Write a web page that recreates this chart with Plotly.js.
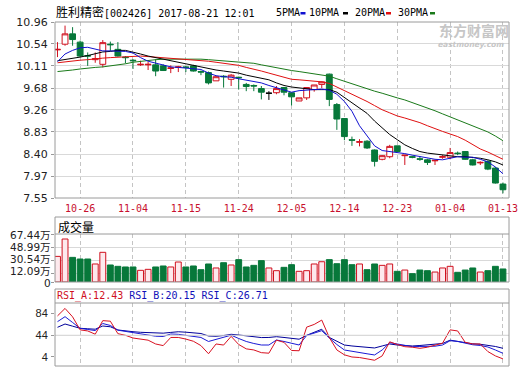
<!DOCTYPE html>
<html><head><meta charset="utf-8">
<script src="https://cdn.plot.ly/plotly-3.0.1.min.js"></script>
<style>html,body{margin:0;padding:0;background:#fff;overflow:hidden}#c{width:519px;height:375px}</style>
</head><body><div id="c"></div>
<script>
const dates = ['10-21','10-24','10-25','10-26','10-27','10-28','10-31','11-01','11-02','11-03','11-04','11-07','11-08','11-09','11-10','11-11','11-14','11-15','11-16','11-17','11-18','11-21','11-22','11-23','11-24','11-25','11-28','11-29','11-30','12-01','12-02','12-05','12-06','12-07','12-08','12-09','12-12','12-13','12-14','12-15','12-16','12-19','12-20','12-21','12-22','12-23','12-26','12-27','12-28','12-29','12-30','01-03','01-04','01-05','01-06','01-09','01-10','01-11','01-12','01-13'];
const openP  = [10.42,10.53,10.73,10.57,10.31,10.23,10.14,10.53,10.43,10.28,10.22,10.13,10.13,10.13,10.11,10.06,10.08,10.09,10.11,10.00,9.98,9.82,9.91,9.85,9.89,9.75,9.73,9.67,9.58,9.59,9.69,9.59,9.43,9.49,9.65,9.75,9.95,9.36,9.09,8.68,8.63,8.65,8.48,8.30,8.35,8.56,8.37,8.35,8.31,8.29,8.27,8.34,8.34,8.42,8.45,8.29,8.23,8.26,8.13,7.82];
const highP  = [10.57,10.89,10.86,10.60,10.37,10.37,10.61,10.58,10.57,10.30,10.24,10.21,10.19,10.24,10.14,10.12,10.11,10.11,10.13,10.02,10.00,9.91,9.93,9.95,9.90,9.78,9.75,9.72,9.62,9.72,9.70,9.59,9.49,9.69,9.74,9.81,9.96,9.39,9.09,8.74,8.69,8.67,8.49,8.38,8.58,8.56,8.38,8.37,8.36,8.31,8.28,8.38,8.52,8.45,8.46,8.31,8.26,8.28,8.15,7.85];
const lowP   = [10.28,10.50,10.50,10.28,10.11,10.17,10.08,10.40,10.29,10.16,10.05,10.11,10.03,9.91,10.01,9.97,9.99,9.99,10.00,9.93,9.75,9.82,9.69,9.72,9.65,9.62,9.62,9.46,9.45,9.56,9.54,9.34,9.43,9.45,9.61,9.68,9.33,8.87,8.67,8.56,8.55,8.50,8.16,8.28,8.32,8.44,8.19,8.32,8.27,8.19,8.19,8.31,8.30,8.38,8.29,8.18,8.19,8.09,7.83,7.64];
const closeP = [10.43,10.73,10.62,10.30,10.30,10.25,10.56,10.52,10.30,10.27,10.21,10.14,10.14,10.01,10.02,10.07,10.09,10.08,10.01,9.99,9.78,9.90,9.90,9.93,9.88,9.71,9.72,9.60,9.58,9.67,9.60,9.51,9.49,9.69,9.74,9.80,9.46,9.08,8.74,8.67,8.64,8.52,8.26,8.37,8.55,8.45,8.38,8.34,8.30,8.24,8.28,8.35,8.43,8.41,8.30,8.19,8.24,8.11,7.84,7.71];
const ma5  = [10.19,10.34,10.41,10.46,10.47,10.43,10.40,10.40,10.40,10.39,10.36,10.27,10.20,10.16,10.12,10.09,10.08,10.07,10.06,10.04,9.97,9.92,9.90,9.89,9.86,9.83,9.80,9.78,9.73,9.69,9.64,9.60,9.63,9.64,9.65,9.66,9.64,9.56,9.42,9.23,8.95,8.76,8.56,8.47,8.45,8.44,8.41,8.38,8.35,8.33,8.30,8.29,8.32,8.35,8.34,8.34,8.30,8.25,8.15,8.02];
const ma10 = [10.21,10.23,10.26,10.28,10.31,10.35,10.38,10.39,10.41,10.41,10.38,10.34,10.30,10.27,10.24,10.21,10.18,10.15,10.11,10.08,10.05,10.03,10.01,9.99,9.97,9.93,9.90,9.88,9.84,9.78,9.73,9.70,9.68,9.66,9.65,9.65,9.65,9.60,9.50,9.40,9.29,9.19,9.04,8.90,8.78,8.68,8.58,8.51,8.45,8.42,8.40,8.38,8.37,8.35,8.35,8.34,8.32,8.29,8.25,8.19];
const ma20 = [10.17,10.19,10.21,10.22,10.23,10.25,10.26,10.27,10.28,10.29,10.29,10.30,10.29,10.28,10.27,10.25,10.25,10.24,10.23,10.22,10.20,10.18,10.16,10.15,10.12,10.08,10.05,10.01,9.97,9.93,9.89,9.85,9.84,9.83,9.81,9.80,9.77,9.70,9.63,9.57,9.50,9.42,9.34,9.26,9.20,9.14,9.10,9.06,9.01,8.95,8.89,8.84,8.79,8.74,8.67,8.59,8.50,8.44,8.37,8.30];
const ma30 = [10.00,10.01,10.03,10.05,10.07,10.08,10.09,10.11,10.12,10.15,10.18,10.20,10.21,10.23,10.24,10.24,10.25,10.25,10.24,10.24,10.23,10.22,10.21,10.20,10.19,10.18,10.16,10.13,10.10,10.07,10.05,10.02,10.00,9.98,9.95,9.93,9.91,9.86,9.81,9.76,9.71,9.67,9.62,9.58,9.53,9.49,9.45,9.40,9.35,9.29,9.24,9.18,9.12,9.06,9.00,8.94,8.88,8.83,8.75,8.66];
const volume = [36.0,60.4,34.6,32.3,32.3,25.3,41.7,23.9,22.0,21.1,21.1,16.4,17.8,21.1,22.5,21.1,28.1,21.1,22.5,17.3,25.3,19.7,27.1,23.9,31.4,21.1,23.4,30.0,19.7,15.9,20.6,24.3,15.0,15.9,25.3,28.5,31.4,25.7,31.4,24.3,25.3,17.3,25.3,23.4,25.3,15.0,16.8,11.7,16.8,15.9,14.0,19.7,22.0,13.6,16.8,19.7,14.0,15.9,22.0,18.3];
const rsiA = [79.7,93.5,78,54,52,46,71,70,47,44,39,37,35,28,25,40,40,37,33,25,10,28,26,42,27,19,17,12,11,35,31,16,15.5,59,64,72,40,17,8,4,3,0.5,-2,6,32,27,23,22,20,22,26,29.5,54,52,31,28,28,14,6,0.5];
const rsiB = [69.1,78.3,67.6,56.7,54.7,52.7,65.7,62.1,53.4,51.0,48.8,46.8,44.6,42.3,41.8,46.4,45.8,44.0,42.2,40.0,32.6,36.8,40.0,44.2,38.1,32.6,28.9,26.1,26.1,35.3,32.6,28.9,26.1,43.6,48.2,52.5,39.0,27.0,16.9,14.1,12.3,9.9,7.7,16.9,30.4,28.0,25.2,23.0,23.4,23.7,23.9,26.1,34.0,32.6,28.9,26.5,25.2,22.4,16.9,10.8];
const rsiC = [58.7,64.8,60.8,56.9,56.0,55.2,61.1,59.7,53.8,51.9,50.6,49.5,49.0,48.1,47.9,49.3,50.5,49.7,48.6,47.3,42.7,42.2,43.6,45.8,44.6,42.7,41.2,39.8,40.0,41.4,40.0,38.1,36.8,44.0,50.1,55.1,40.0,32.6,26.1,24.3,22.8,21.3,20.6,24.3,28.0,26.1,25.2,24.3,25.2,26.1,27.4,28.9,35.0,32.6,29.8,28.3,27.4,25.8,23.4,20.0];
const priceTicks = [10.96,10.54,10.11,9.68,9.26,8.83,8.40,7.97,7.55];
const volTicks = [0,12.09,30.54,48.99,67.44];
const volTickText = ['0','12.09万','30.54万','48.99万','67.44万'];
const rsiTicks = [4,44,84];
const dateTicks = ['10-26','11-04','11-15','11-24','12-05','12-14','12-23','01-04','01-13'];

const W = 519, H = 375;
const px = x => x / W, py = y => 1 - y / H;
const RED = '#d0101e', GREEN = '#07783a';
const MONO = 'DejaVu Sans Mono, Liberation Mono, monospace';

function idxWhere(f){ const r=[]; for(let i=0;i<dates.length;i++) if(f(i)) r.push(i); return r; }
function candle(idx, incLine, incFill, decLine, decFill){
  return {type:'candlestick', xaxis:'x', yaxis:'y', hoverinfo:'skip', whiskerwidth:0,
    x: idx.map(i=>dates[i]), open: idx.map(i=>openP[i]), high: idx.map(i=>highP[i]),
    low: idx.map(i=>lowP[i]), close: idx.map(i=>closeP[i]),
    increasing:{line:{color:incLine,width:1},fillcolor:incFill},
    decreasing:{line:{color:decLine,width:1},fillcolor:decFill}};
}
const upIdx = idxWhere(i=>closeP[i]>openP[i]);
const dnIdx = idxWhere(i=>closeP[i]<openP[i]);
const flatIdx = idxWhere(i=>closeP[i]===openP[i]);

function line(y, color, xa, ya){ return {type:'scatter', mode:'lines', x:dates, y:y, xaxis:xa, yaxis:ya, line:{color:color,width:1}, hoverinfo:'skip'}; }

const traces = [
  candle(upIdx, RED, '#ffffff', RED, '#ffffff'),
  candle(dnIdx, GREEN, GREEN, GREEN, GREEN),
  candle(flatIdx, '#000000', '#000000', '#000000', '#000000'),
  line(ma30, '#1a7a1a', 'x', 'y'),
  line(ma20, '#e01010', 'x', 'y'),
  line(ma10, '#000000', 'x', 'y'),
  line(ma5, '#1010d0', 'x', 'y'),
  {type:'bar', x:dates, y:volume, xaxis:'x2', yaxis:'y2', hoverinfo:'skip',
   marker:{color: dates.map((d,i)=>closeP[i]>=openP[i]?'#fde9ed':GREEN),
           line:{color: dates.map((d,i)=>closeP[i]>=openP[i]?RED:GREEN), width:1}}},
  line(rsiC, '#00009a', 'x3', 'y3'),
  line(rsiB, '#1a1ad6', 'x3', 'y3'),
  line(rsiA, '#d81020', 'x3', 'y3')
];

const baseX = {type:'category', categoryorder:'array', categoryarray:dates, range:[-0.33,59.8],
  tickmode:'array', tickvals:dateTicks, ticktext:dateTicks, showgrid:true, gridcolor:'#c4c4c4',
  griddash:'4px,3px', gridwidth:1, zeroline:false, showline:false, ticks:'', fixedrange:true,
  domain:[px(55), px(509)]};
const baseY = {zeroline:false, showline:false, ticks:'outside', ticklen:3, tickcolor:'#999',
  fixedrange:true, tickmode:'array', gridcolor:'#d9d9d9', ticklabelstandoff:1};

const box = (x0,y0,x1,y1)=>({type:'rect', xref:'paper', yref:'paper', x0:px(x0), y0:py(y0), x1:px(x1), y1:py(y1), line:{color:'#9a9a9a', width:1}, fillcolor:'rgba(0,0,0,0)'});
const hline = (x0,x1,y)=>({type:'line', xref:'paper', yref:'paper', x0:px(x0), x1:px(x1), y0:py(y), y1:py(y), line:{color:'#9a9a9a', width:1}});
const mark = (x0,color)=>({type:'rect', xref:'paper', yref:'paper', x0:px(x0), x1:px(x0+5), y0:py(12), y1:py(14.5), line:{width:0}, fillcolor:color});

const ann = (x,y,text,font,anchor)=>({xref:'paper', yref:'paper', x:px(x), y:py(y), text:text, showarrow:false, xanchor:anchor||'left', yanchor:'middle', font:font, borderpad:0});

// volume tick labels: text from volTickText, set at the label rows the reference uses
const volLabelRows = [282.5, 271, 258.8, 246.5, 234.5];
const volLabelFont = {family:'DejaVu Sans, Noto Sans CJK SC', size:10.5, color:'#222'};
const volLabels = volTickText.map((t,i)=>ann(52, volLabelRows[i], t, volLabelFont, 'right'));

const layout = {
  width:W, height:H, margin:{l:0,r:0,t:0,b:0}, paper_bgcolor:'#fff', plot_bgcolor:'#fff',
  showlegend:false, boxgap:0.1, boxgroupgap:0.14, bargap:0.22,
  font:{family:'DejaVu Sans, Noto Sans CJK SC', size:11, color:'#222'},
  xaxis: Object.assign({}, baseX, {anchor:'y', rangeslider:{visible:false}, tickfont:{family:MONO, size:10, color:'#c8102e'}, ticklabelstandoff:3}),
  xaxis2: Object.assign({}, baseX, {anchor:'y2', showticklabels:false}),
  xaxis3: Object.assign({}, baseX, {anchor:'y3', showticklabels:false}),
  yaxis: Object.assign({}, baseY, {domain:[py(198), py(22)], range:[7.55,10.96], tickvals:priceTicks,
    ticktext:priceTicks.map(v=>v.toFixed(2)), showgrid:true, tickfont:{family:'DejaVu Sans', size:11, color:'#222'}}),
  yaxis2: Object.assign({}, baseY, {domain:[py(282), py(234)], range:[0,67.44], tickvals:volTicks,
    ticktext:volTickText, showticklabels:false, showgrid:true}),
  yaxis3: Object.assign({}, baseY, {domain:[py(366), py(303)], range:[-12.6,103.5], tickvals:rsiTicks,
    ticktext:rsiTicks.map(String), showgrid:false, tickfont:{family:'Liberation Sans', size:11, color:'#222'}}),
  shapes: [
    {type:'line', xref:'paper', yref:'y3', x0:px(55), x1:px(509), y0:44, y1:44, line:{color:'#cfcfcf', width:1}},
    box(55,22,509,198), box(55,217,509,282), hline(55,509,234), box(55,289,509,366), hline(55,509,303),
    mark(300.5,'#1010d0'), mark(343,'#000000'), mark(386,'#e01010'), mark(430,'#1a7a1a')
  ],
  annotations: [
    ann(55,12,'<span style="font-size:12px">胜利精密</span>[002426] 2017-08-21 12:01', {family:MONO+', Noto Sans CJK SC', size:10, color:'#000'}),
    ann(274.5,12,'5PMA', {family:MONO, size:10, color:'#000'}),
    ann(307.5,12,'10PMA', {family:MONO, size:10, color:'#000'}),
    ann(354,12,'20PMA', {family:MONO, size:10, color:'#000'}),
    ann(397,12,'30PMA', {family:MONO, size:10, color:'#000'}),
    ann(474,30,'<b>东方财富网</b>', {family:'Noto Sans CJK SC', size:14, color:'#c6c6c6'}, 'center'),
    ann(471,44.5,'<b><i>eastmoney.com</i></b>', {family:'DejaVu Sans', size:7.5, color:'#c6c6c6'}, 'center'),
    ann(57,226,'成交量', {family:'Noto Sans CJK SC', size:12, color:'#000'}),
    ann(56,296,'<span style="color:#d0101e">RSI_A:12.43</span> <span style="color:#1010b8">RSI_B:20.15</span> <span style="color:#1010b8">RSI_C:26.71</span>', {family:MONO, size:10, color:'#000'})
  ].concat(volLabels)
};

Plotly.newPlot('c', traces, layout, {staticPlot:true, displayModeBar:false});
</script>
</body></html>
